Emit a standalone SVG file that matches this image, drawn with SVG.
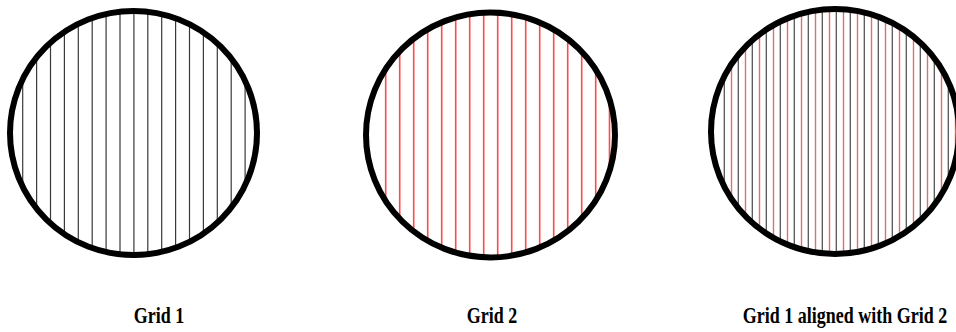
<svg xmlns="http://www.w3.org/2000/svg" width="956" height="332" viewBox="0 0 956 332">
<style>
.ring{fill:none;stroke:#000;stroke-width:6}
.g1{stroke:#3a3a3a;stroke-width:1.2}
.g2{stroke:#ff4a4a;stroke-width:1.6}
.g1b{stroke:#555;stroke-width:1.3}
.g2b{stroke:#e07070;stroke-width:1.4}
.lbl{font-family:"Liberation Serif","Times New Roman",serif;font-weight:bold;font-size:18px;text-anchor:middle;fill:#000}
</style>
<defs>
<clipPath id="c1"><ellipse cx="133.5" cy="133" rx="123.5" ry="122"/></clipPath>
<clipPath id="c2"><ellipse cx="490.5" cy="135" rx="124.5" ry="122.5"/></clipPath>
<clipPath id="c3"><ellipse cx="835" cy="131.5" rx="124" ry="122.5"/></clipPath>
</defs>
<rect width="956" height="332" fill="#fff"/>
<g id="grid1">
<g clip-path="url(#c1)" class="g1">
<line x1="22.7" y1="0" x2="22.7" y2="270"/><line x1="36.6" y1="0" x2="36.6" y2="270"/><line x1="50.5" y1="0" x2="50.5" y2="270"/><line x1="64.4" y1="0" x2="64.4" y2="270"/><line x1="78.3" y1="0" x2="78.3" y2="270"/><line x1="92.2" y1="0" x2="92.2" y2="270"/><line x1="106.1" y1="0" x2="106.1" y2="270"/><line x1="120" y1="0" x2="120" y2="270"/><line x1="133.9" y1="0" x2="133.9" y2="270"/><line x1="147.8" y1="0" x2="147.8" y2="270"/><line x1="161.7" y1="0" x2="161.7" y2="270"/><line x1="175.6" y1="0" x2="175.6" y2="270"/><line x1="189.5" y1="0" x2="189.5" y2="270"/><line x1="203.4" y1="0" x2="203.4" y2="270"/><line x1="217.3" y1="0" x2="217.3" y2="270"/><line x1="231.2" y1="0" x2="231.2" y2="270"/><line x1="245.1" y1="0" x2="245.1" y2="270"/>
</g>
<ellipse class="ring" cx="133.5" cy="133" rx="123.5" ry="122"/>
<text class="lbl" transform="translate(159 323) scale(1 1.25)">Grid 1</text>
</g>
<g id="grid2">
<g clip-path="url(#c2)" class="g2">
<line x1="385.7" y1="0" x2="385.7" y2="270"/><line x1="399.7" y1="0" x2="399.7" y2="270"/><line x1="413.7" y1="0" x2="413.7" y2="270"/><line x1="427.7" y1="0" x2="427.7" y2="270"/><line x1="441.7" y1="0" x2="441.7" y2="270"/><line x1="455.7" y1="0" x2="455.7" y2="270"/><line x1="469.7" y1="0" x2="469.7" y2="270"/><line x1="483.7" y1="0" x2="483.7" y2="270"/><line x1="497.7" y1="0" x2="497.7" y2="270"/><line x1="511.7" y1="0" x2="511.7" y2="270"/><line x1="525.7" y1="0" x2="525.7" y2="270"/><line x1="539.7" y1="0" x2="539.7" y2="270"/><line x1="553.7" y1="0" x2="553.7" y2="270"/><line x1="567.7" y1="0" x2="567.7" y2="270"/><line x1="581.7" y1="0" x2="581.7" y2="270"/><line x1="595.7" y1="0" x2="595.7" y2="270"/><line x1="609.5" y1="0" x2="609.5" y2="270"/>
</g>
<ellipse class="ring" cx="490.5" cy="135" rx="124.5" ry="122.5"/>
<text class="lbl" transform="translate(492 323) scale(1 1.25)">Grid 2</text>
</g>
<g id="grid3">
<g clip-path="url(#c3)">
<g class="g1b">
<line x1="724.3" y1="0" x2="724.3" y2="270"/><line x1="738.3" y1="0" x2="738.3" y2="270"/><line x1="752.3" y1="0" x2="752.3" y2="270"/><line x1="766.3" y1="0" x2="766.3" y2="270"/><line x1="780.3" y1="0" x2="780.3" y2="270"/><line x1="794.3" y1="0" x2="794.3" y2="270"/><line x1="808.3" y1="0" x2="808.3" y2="270"/><line x1="822.3" y1="0" x2="822.3" y2="270"/><line x1="836.3" y1="0" x2="836.3" y2="270"/><line x1="850.3" y1="0" x2="850.3" y2="270"/><line x1="864.3" y1="0" x2="864.3" y2="270"/><line x1="878.3" y1="0" x2="878.3" y2="270"/><line x1="892.3" y1="0" x2="892.3" y2="270"/><line x1="906.3" y1="0" x2="906.3" y2="270"/><line x1="920.3" y1="0" x2="920.3" y2="270"/><line x1="934.3" y1="0" x2="934.3" y2="270"/><line x1="948.3" y1="0" x2="948.3" y2="270"/>
</g>
<g class="g2b">
<line x1="731.5" y1="0" x2="731.5" y2="270"/><line x1="745.5" y1="0" x2="745.5" y2="270"/><line x1="759.5" y1="0" x2="759.5" y2="270"/><line x1="773.5" y1="0" x2="773.5" y2="270"/><line x1="787.5" y1="0" x2="787.5" y2="270"/><line x1="801.5" y1="0" x2="801.5" y2="270"/><line x1="815.5" y1="0" x2="815.5" y2="270"/><line x1="829.5" y1="0" x2="829.5" y2="270"/><line x1="843.5" y1="0" x2="843.5" y2="270"/><line x1="857.5" y1="0" x2="857.5" y2="270"/><line x1="871.5" y1="0" x2="871.5" y2="270"/><line x1="885.5" y1="0" x2="885.5" y2="270"/><line x1="899.5" y1="0" x2="899.5" y2="270"/><line x1="913.5" y1="0" x2="913.5" y2="270"/><line x1="927.5" y1="0" x2="927.5" y2="270"/><line x1="941.5" y1="0" x2="941.5" y2="270"/><line x1="955.5" y1="0" x2="955.5" y2="270"/>
</g>
</g>
<ellipse class="ring" cx="835" cy="131.5" rx="124" ry="122.5"/>
<text class="lbl" transform="translate(845 323) scale(1 1.25)">Grid 1 aligned with Grid 2</text>
</g>
</svg>
